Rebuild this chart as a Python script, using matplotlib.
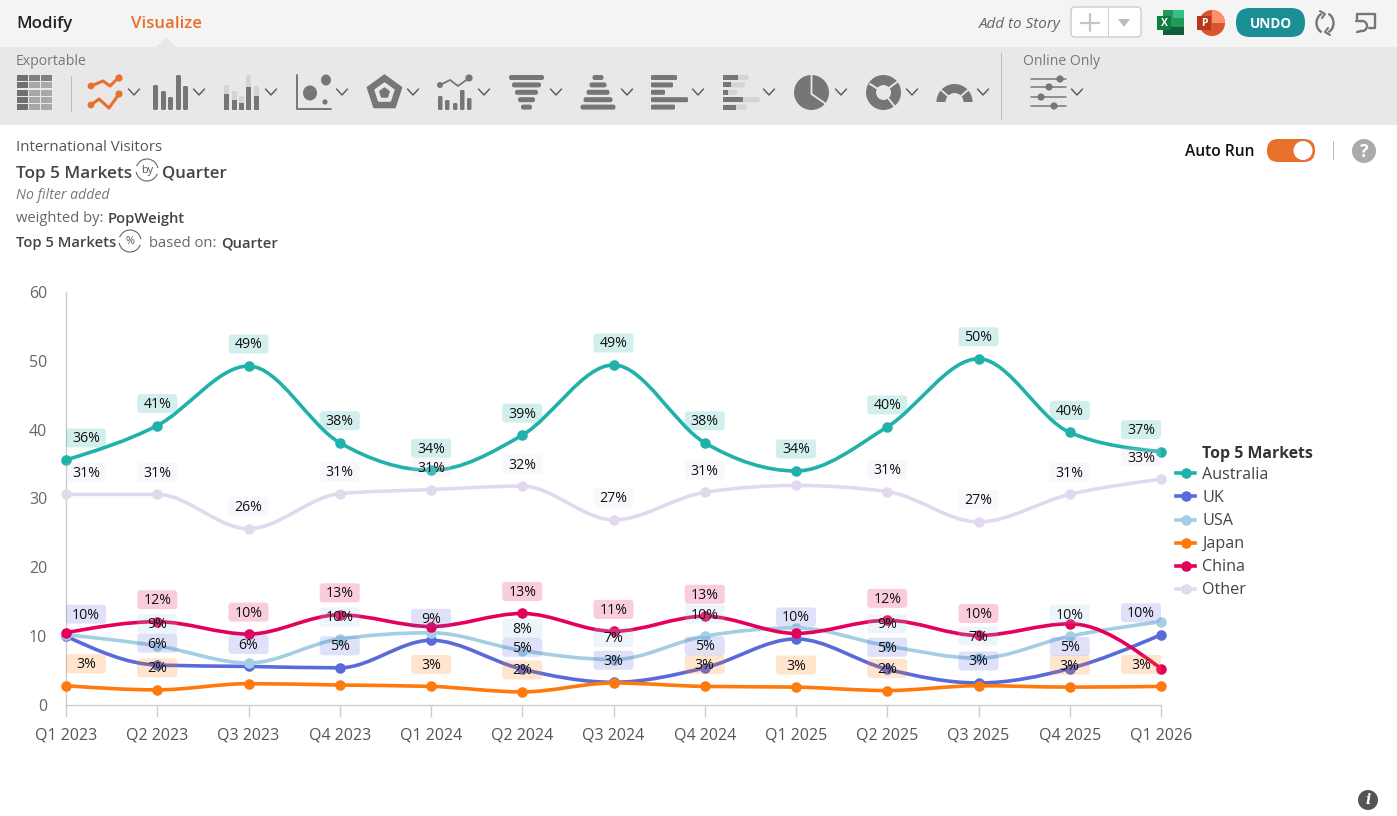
import numpy as np
import matplotlib
matplotlib.use("Agg")
import matplotlib.pyplot as plt
from matplotlib.path import Path
from matplotlib.patches import (PathPatch, FancyBboxPatch, Rectangle, Circle,
                                Polygon, Wedge, Ellipse, Arc)
from matplotlib.lines import Line2D
from matplotlib.transforms import Affine2D

plt.rcParams['font.family'] = ['Open Sans', 'DejaVu Sans']

W, H = 1397, 816

quarters = ['Q1 2023', 'Q2 2023', 'Q3 2023', 'Q4 2023', 'Q1 2024', 'Q2 2024', 'Q3 2024',
            'Q4 2024', 'Q1 2025', 'Q2 2025', 'Q3 2025', 'Q4 2025', 'Q1 2026']

australia = [35.6, 40.6, 49.25, 38.1, 34.1, 39.2, 49.4, 38.1, 34.0, 40.4, 50.3, 39.6, 36.8]
uk = [10.0, 5.8, 5.6, 5.4, 9.4, 5.2, 3.3, 5.4, 9.6, 5.2, 3.2, 5.3, 10.2]
usa = [10.2, 8.6, 6.1, 9.6, 10.5, 7.9, 6.6, 10.0, 11.2, 8.6, 6.8, 10.0, 12.1]
japan = [2.8, 2.2, 3.1, 2.9, 2.7, 1.9, 3.2, 2.7, 2.6, 2.1, 2.8, 2.6, 2.7]
china = [10.5, 12.1, 10.3, 13.1, 11.4, 13.3, 10.7, 12.9, 10.4, 12.3, 10.1, 11.8, 5.3]
other = [30.6, 30.6, 25.6, 30.7, 31.3, 31.8, 26.9, 30.9, 31.9, 31.0, 26.6, 30.6, 32.8]

_ = None
australia_labels = [36, 41, 49, 38, 34, 39, 49, 38, 34, 40, 50, 40, 37]
uk_labels = [10, 6, 6, 5, 9, 5, 3, 5, 10, 5, 3, 5, 10]
usa_labels = [_, 9, _, 10, _, 8, 7, 10, _, 9, 7, 10, _]
japan_labels = [3, 2, _, _, 3, 2, _, 3, 3, 2, _, 3, 3]
china_labels = [_, 12, 10, 13, _, 13, 11, 13, _, 12, 10, _, _]
other_labels = [31, 31, 26, 31, 31, 32, 27, 31, _, 31, 27, 31, 33]

series_names = ['Australia', 'UK', 'USA', 'Japan', 'China', 'Other']
series_values = [australia, uk, usa, japan, china, other]
series_labels = [australia_labels, uk_labels, usa_labels, japan_labels, china_labels, other_labels]
series_colors = ['#20B2AA', '#5A6ADB', '#A3CEE3', '#FF7A0D', '#E5005B', '#E3D9EF']

fig = plt.figure(figsize=(W / 100, H / 100), dpi=100, facecolor='white')

# Page chrome, laid out in screen pixels
ui = fig.add_axes([0, 0, 1, 1], zorder=0)
ui.set_xlim(0, W)
ui.set_ylim(H, 0)
ui.axis('off')

DARK = '#767676'
LIGHT = '#d4d4d4'


def rbox(x0, y0, x1, y1, color, r=2.0, ec='none', lw=0, z=2):
    ui.add_patch(FancyBboxPatch((x0 + r, y0 + r), x1 - x0 - 2 * r, y1 - y0 - 2 * r,
                                boxstyle=f'round,pad={r},rounding_size={r}',
                                fc=color, ec=ec, lw=lw, zorder=z))


def rect(x0, y0, x1, y1, color, z=2):
    ui.add_patch(Rectangle((x0, y0), x1 - x0, y1 - y0, fc=color, ec='none', zorder=z))


def poly(points, color, lw=1.5, z=3):
    xs, ys = zip(*points)
    ui.add_line(Line2D(xs, ys, color=color, lw=lw, zorder=z, solid_capstyle='round',
                       solid_joinstyle='round'))


def dot(x, y, r, color, z=3):
    ui.add_patch(Circle((x, y), r, fc=color, ec='none', zorder=z))


def chevron(x, y=92):
    poly([(x - 5.5, y - 3), (x, y + 3), (x + 5.5, y - 3)], '#555555', lw=1.0)


def label(x, y, s, size=11, color='#555555', weight='normal', style='normal', ha='left'):
    # Open Sans reads about 1.5px high when centred on its box
    ui.text(x, y + 1.5, s, fontsize=size, color=color, fontweight=weight, fontstyle=style,
            ha=ha, va='center', zorder=5)


rect(0, 0, W, 47, '#f4f4f4', z=1)
rect(0, 47, W, 125, '#e8e8e8', z=1)
ui.add_patch(Polygon([(156, 47), (166, 37), (176, 47)], fc='#e8e8e8', ec='none', zorder=1))

label(16, 23, 'Modify', 12.2, '#222222', 'semibold')
label(131, 23, 'Visualize', 12.2, '#E8702A', 'semibold')
label(16, 60, 'Exportable', 10.1, '#777777')
label(1023, 60, 'Online Only', 10.1, '#777777')
rect(71, 76, 72, 112, '#bdbdbd')
rect(1001, 53, 1002, 120, '#bdbdbd')

# Table icon
for i in range(5):
    yy = 75 + i * 7.3
    rect(17, yy, 28, yy + 6, '#707070')
    rect(29, yy, 40, yy + 6, '#a8a8a8' if i else '#808080')
    rect(41, yy, 52, yy + 6, '#a8a8a8' if i else '#808080')

# Line icon
ORANGE = '#E8702A'
poly([(91, 86), (103, 81), (110, 86), (118, 78)], ORANGE, lw=2.2)
poly([(91, 105), (99, 99), (109, 108), (119, 94)], ORANGE, lw=2.2)
for px, py, r in [(91, 86, 3.4), (119, 78, 3.6), (91, 105, 3.4), (119, 94, 3.6)]:
    dot(px, py, r, ORANGE)
chevron(134)

# Column icon
for bx, top in zip([153, 161, 168, 176, 183], [85, 91, 97, 75, 86]):
    rbox(bx, top, bx + 5, 110, DARK, r=1.5)
chevron(199)

# Stacked column icon
for bx, top, mid in zip([224, 232, 239, 246, 254], [85, 91, 96, 75, 86], [94, 100, 103, 87, 96]):
    rbox(bx, top, bx + 5, 110, LIGHT, r=1.5)
    rect(bx, mid, bx + 5, 110, DARK)
chevron(271)

# Bubble icon
poly([(296.5, 75), (296.5, 109), (331, 109)], DARK, lw=1.4)
ui.add_patch(Ellipse((326, 80), 10, 11, fc=DARK, ec='none', zorder=3))
ui.add_patch(Ellipse((310, 93), 14, 15, fc=DARK, ec='none', zorder=3))
dot(325, 102, 2.6, DARK)
chevron(342)

# Radar icon
angles = np.deg2rad(-90 + 72 * np.arange(5))
for radius, col in [(18, DARK), (10, '#e8e8e8'), (5, DARK)]:
    pts = np.c_[384.5 + radius * np.cos(angles), 93 + radius * np.sin(angles)]
    ui.add_patch(Polygon(pts, fc=col, ec=col, lw=1, joinstyle='round', zorder=3))
chevron(413)

# Combination icon
for bx, top in zip([438, 445, 453, 460, 467], [96, 100, 103, 90, 98]):
    rbox(bx, top, bx + 4.5, 110, DARK, r=1.4)
poly([(440, 85), (450, 80), (458, 86), (469, 78)], DARK, lw=1.3)
dot(440, 85, 3, DARK)
dot(469, 78, 3.6, DARK)
chevron(484)

# Funnel and pyramid icons
funnel_widths = [35, 29, 23, 17, 11]
for i, w in enumerate(funnel_widths):
    yy = 75 + i * 7.4
    rbox(526.5 - w / 2, yy, 526.5 + w / 2, yy + 5, DARK, r=2.2)
    rbox(598 - funnel_widths[4 - i] / 2, yy, 598 + funnel_widths[4 - i] / 2, yy + 5, DARK, r=2.2)
chevron(556)
chevron(627)

# Bar icons
for i, (w, solid) in enumerate(zip([26, 22, 14, 37, 24], [15, 8, 5, 20, 13])):
    yy = 75 + i * 7.4
    rbox(651, yy, 651 + w, yy + 5, DARK, r=1.2)
    rbox(723, yy, 723 + w, yy + 5, LIGHT, r=2.2)
    rect(723, yy, 723 + solid, yy + 5, DARK)
chevron(698)
chevron(769)

# Pie icon
ui.add_patch(Ellipse((811.5, 92.5), 35, 35, fc=DARK, ec='none', zorder=3))
poly([(811.5, 75), (811.5, 94), (826, 104)], '#e8e8e8', lw=1.3, z=4)
chevron(841)

# Donut icon
ui.add_patch(Ellipse((883.5, 92.5), 35, 35, fc=DARK, ec='none', zorder=3))
ui.add_patch(Ellipse((883.5, 92.5), 15, 15, fc='#e8e8e8', ec='none', zorder=4))
poly([(870, 84), (878, 89)], '#e8e8e8', lw=1.4, z=4)
poly([(897, 82), (889, 88)], '#e8e8e8', lw=1.4, z=4)
poly([(888, 98), (895, 107)], '#e8e8e8', lw=1.4, z=4)
chevron(912)

# Gauge icon
ui.add_patch(Wedge((954.5, 102), 18, 180, 360, width=9, fc=DARK, ec='none', zorder=3))
poly([(941, 90), (948, 96)], '#e8e8e8', lw=1.3, z=4)
poly([(968, 90), (961, 96)], '#e8e8e8', lw=1.3, z=4)
chevron(983)

# Settings sliders
for yy, kx in zip([79, 87, 97, 106], [1060, 1049, 1041, 1054]):
    poly([(1031, yy), (1066, yy)], DARK, lw=1.1)
    dot(kx, yy, 3.6, DARK)
chevron(1077)

# Toolbar, top right
label(979, 23, 'Add to Story', 11, '#666666', style='italic')
rbox(1071, 7, 1141, 37, 'white', r=4, ec='#cccccc', lw=1)
rect(1108, 8, 1109, 36, '#d0d0d0')
poly([(1090, 14), (1090, 31)], '#c4c4c4', lw=1.6)
poly([(1081, 22.5), (1099, 22.5)], '#c4c4c4', lw=1.6)
ui.add_patch(Polygon([(1118, 19), (1130, 19), (1124, 27)], fc='#bdbdbd', ec='none', zorder=3))

# Spreadsheet and slides badges
rect(1163, 10, 1184, 35, '#1F9A5A')
rect(1173, 10, 1184, 18, '#35C083')
rect(1163, 27, 1184, 35, '#125C3A')
rect(1157, 16, 1171, 30, '#107C41', z=3)
ui.text(1164, 24, 'X', fontsize=7.5, color='white', fontweight='bold', ha='center', va='center', zorder=5)
dot(1212, 23, 13, '#D9532C')
ui.add_patch(Wedge((1212, 23), 13, -90, 0, fc='#FF8F6B', ec='none', zorder=3))
rect(1197, 16, 1211, 30, '#B7371A', z=4)
ui.text(1204, 24, 'P', fontsize=7.5, color='white', fontweight='bold', ha='center', va='center', zorder=5)

rbox(1236, 8, 1305, 37, '#1A8F96', r=14)
ui.text(1270.5, 24, 'UNDO', fontsize=9.8, color='white', fontweight='bold', ha='center', va='center', zorder=5)
ui.add_patch(Arc((1325, 23), 17, 20, theta1=110, theta2=250, ec=DARK, lw=1.7, zorder=3))
ui.add_patch(Arc((1325, 23), 17, 20, theta1=-70, theta2=70, ec=DARK, lw=1.7, zorder=3))
poly([(1320, 11), (1325, 14), (1322, 18)], DARK, lw=1.5)
poly([(1330, 35), (1325, 32), (1328, 28)], DARK, lw=1.5)
poly([(1357, 19), (1357, 14), (1375, 14), (1375, 28), (1369, 28)], DARK, lw=1.7)
ui.add_patch(Arc((1362, 26), 10, 10, theta1=-110, theta2=110, ec=DARK, lw=1.7, zorder=3))
poly([(1356, 21), (1361, 21)], DARK, lw=1.7)
poly([(1357, 32), (1361, 31)], DARK, lw=1.7)

# Report header
label(16, 146, 'International Visitors', 10.8, '#555555')
label(16, 172, 'Top 5 Markets', 12.3, '#444444', 'semibold')
label(162, 172, 'Quarter', 12.2, '#444444', 'semibold')
label(16, 194, 'No filter added', 10.2, '#777777', style='italic')
label(16, 217, 'weighted by:', 10.6, '#666666')
label(108, 217, 'PopWeight', 10.6, '#444444', 'semibold')
label(16, 242, 'Top 5 Markets', 10.6, '#444444', 'semibold')
label(149, 242, 'based on:', 10.6, '#666666')
label(221, 242, 'Quarter', 10.6, '#444444', 'semibold')
for cx, cy, glyph, fs in [(147, 170, 'by', 7.8), (130, 241, '%', 7.8)]:
    ui.add_patch(Arc((cx, cy), 22, 22, theta1=20, theta2=170, ec='#666666', lw=0.8, zorder=3))
    ui.add_patch(Arc((cx, cy), 22, 22, theta1=200, theta2=350, ec='#666666', lw=0.8, zorder=3))
    ui.text(cx, cy, glyph, fontsize=fs, color='#555555', ha='center', va='center', zorder=5)

# Auto Run switch and help
label(1185, 150, 'Auto Run', 11.2, '#111111', 'semibold')
rbox(1267, 139, 1315, 162, '#E8702A', r=11)
dot(1303, 150.5, 9.5, 'white', z=4)
rect(1332.5, 141, 1333.5, 160, '#bbbbbb')
dot(1364, 151, 12, '#ababab')
ui.text(1364, 152, '?', fontsize=13, color='white', fontweight='bold', ha='center', va='center', zorder=5)
dot(1368, 800, 10, '#555555')
ui.text(1368, 800, 'i', fontsize=10, color='white', fontweight='bold', fontstyle='italic',
        ha='center', va='center', family='DejaVu Serif', zorder=5)

# Chart area
x0_px, x1_px, ytop_px, ybot_px = 66, 1161, 292, 705
ax = fig.add_axes([x0_px / W, 1 - ybot_px / H, (x1_px - x0_px) / W, (ybot_px - ytop_px) / H], zorder=2)
ax.patch.set_alpha(0)
x = np.arange(len(quarters))
ax.set_xlim(0, len(quarters) - 1)
ax.set_ylim(0, 60)

for side in ('top', 'right'):
    ax.spines[side].set_visible(False)
for side in ('left', 'bottom'):
    ax.spines[side].set_color('#cccccc')
    ax.spines[side].set_linewidth(1.0)
ax.set_xticks(x, quarters)
ax.set_yticks(range(0, 61, 10))
ax.tick_params(axis='x', length=8.6, width=1, color='#cccccc', pad=7.5, labelsize=11.5, labelcolor='#555555')
ax.tick_params(axis='y', length=0, pad=13.5, labelsize=11.5, labelcolor='#666666')


def monotone_path(xs, ys):
    """Cubic Bezier path with monotone tangents, so peaks stay flat and nothing overshoots."""
    xs, ys = np.asarray(xs, float), np.asarray(ys, float)
    h = np.diff(xs)
    s = np.diff(ys) / h
    t = np.zeros_like(ys)
    for i in range(1, len(ys) - 1):
        p = (s[i - 1] * h[i] + s[i] * h[i - 1]) / (h[i - 1] + h[i])
        t[i] = (np.sign(s[i - 1]) + np.sign(s[i])) * min(abs(s[i - 1]), abs(s[i]), 0.5 * abs(p))
    t[0] = (3 * s[0] - t[1]) / 2
    t[-1] = (3 * s[-1] - t[-2]) / 2
    verts, codes = [(xs[0], ys[0])], [Path.MOVETO]
    for i in range(len(h)):
        d = h[i] / 3
        verts += [(xs[i] + d, ys[i] + d * t[i]), (xs[i + 1] - d, ys[i + 1] - d * t[i + 1]), (xs[i + 1], ys[i + 1])]
        codes += [Path.CURVE4] * 3
    return Path(verts, codes)


LINE_W, MARK = 2.6, 7.6
for k, (vals, col) in enumerate(zip(series_values, series_colors)):
    ax.add_patch(PathPatch(monotone_path(x, vals), fill=False, ec=col, lw=LINE_W, capstyle='round', zorder=3 + k * 0.1))
    ax.plot(x, vals, ls='none', marker='o', ms=MARK, mfc=col, mec=col, mew=0, clip_on=False, zorder=3.05 + k * 0.1)

# Value tags: fixed-size rounded boxes sitting above each point, pulled inward at both ends
BOX_W, BOX_H, LIFT = 40, 19, 22
fig.canvas.draw()
for vals, labs, col in zip(series_values, series_labels, series_colors):
    for i, (v, lab) in enumerate(zip(vals, labs)):
        if lab is None:
            continue
        dx = BOX_W / 2 if i == 0 else (-BOX_W / 2 if i == len(vals) - 1 else 0)
        px, py = ax.transData.transform((x[i], v))
        box = FancyBboxPatch((-BOX_W / 2 + 3, -BOX_H / 2 + 3), BOX_W - 6, BOX_H - 6,
                             boxstyle='round,pad=3,rounding_size=3', fc=col, ec='none', alpha=0.2,
                             transform=Affine2D().translate(px + dx, py + LIFT), zorder=6, clip_on=False)
        ax.add_artist(box)
        ax.annotate(f'{lab}%', (x[i], v), xytext=(dx * 0.72, (LIFT - 1) * 0.72), textcoords='offset points',
                    ha='center', va='center', fontsize=10.2, color='#111111', zorder=7, annotation_clip=False)

# Legend, with its heading placed over the label column
handles = [Line2D([], [], color=c, lw=LINE_W, marker='o', ms=MARK, mew=0) for c in series_colors]
ax.legend(handles, series_names, loc='upper left', bbox_to_anchor=(1176 / W, 1 - 467 / H),
          bbox_transform=fig.transFigure, frameon=False, fontsize=11.6, labelcolor='#444444',
          handlelength=1.2, handletextpad=0.42, labelspacing=0.44, borderpad=0, borderaxespad=0)
label(1202, 452, 'Top 5 Markets', 11.4, '#333333', 'bold')

fig.savefig('out.png', dpi=100, facecolor='white')
